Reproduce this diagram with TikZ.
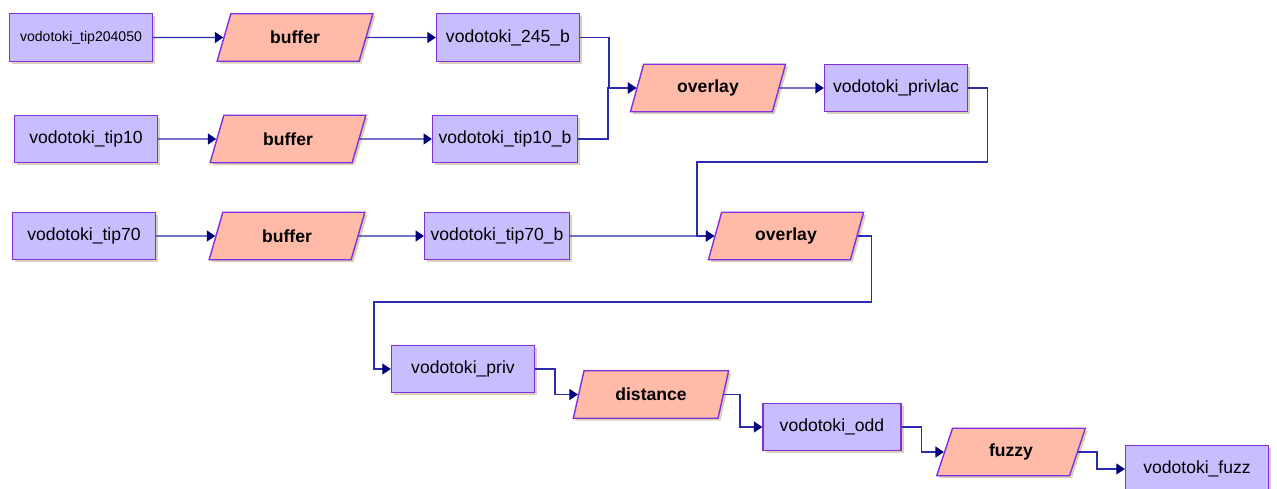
\documentclass[tikz,border=0pt]{standalone}
\usepackage{fontspec}
\setmainfont{Liberation Sans}
\usetikzlibrary{shapes.geometric, arrows.meta, shadows}

\definecolor{layerfill}{HTML}{C8BEFF}
\definecolor{toolfill}{HTML}{FFBBA8}
\definecolor{edgepurple}{HTML}{7F2FE0}
\definecolor{linkblue}{HTML}{2B2BB0}
\definecolor{tipnavy}{HTML}{00007A}
\definecolor{shade}{HTML}{D9D2B8}

\begin{document}
\begin{tikzpicture}[x=0.02cm, y=-0.02cm]
            \tikzstyle{layer} = [rectangle, minimum width=2.86cm, minimum height=0.95cm, text centered, draw=edgepurple, line width=0.8pt, fill=layerfill, font=\fontsize{10}{12}\selectfont, drop shadow={shadow xshift=0.05cm, shadow yshift=-0.05cm, fill=shade, opacity=1}]
            \tikzstyle{tool} = [trapezium, trapezium left angle=75, trapezium right angle=105, trapezium stretches=true, minimum width=3.12cm, minimum height=0.95cm, text centered, draw=edgepurple, line width=0.8pt, fill=toolfill, font=\fontsize{10}{12}\selectfont\bfseries, drop shadow={shadow xshift=0.05cm, shadow yshift=-0.05cm, fill=shade, opacity=1}]
            \tikzstyle{arrow} = [draw=linkblue, line width=0.8pt, -{Triangle[length=1.7mm, width=2.2mm, color=tipnavy]}]

            \fill[white] (0,0) rectangle (1277,489);
            \useasboundingbox (0,0) rectangle (1277,489);

            % first row
            \node (tipA) [layer, font=\fontsize{8}{10}\selectfont] at (81,37.5) {vodotoki\_tip204050};
            \node (bufA) [tool] at (295,37.5) {buffer};
            \node (bufA_out) [layer] at (508,37.5) {vodotoki\_245\_b};

            % second row
            \node (tipB) [layer] at (86,139) {vodotoki\_tip10};
            \node (bufB) [tool] at (288,139) {buffer};
            \node (bufB_out) [layer] at (505,139) {vodotoki\_tip10\_b};

            \node (ovA) [tool] at (708,88) {overlay};
            \node (ovA_out) [layer] at (896,88) {vodotoki\_privlac};

            % third row
            \node (tipC) [layer] at (84,236) {vodotoki\_tip70};
            \node (bufC) [tool] at (287,236) {buffer};
            \node (bufC_out) [layer] at (497,236) {vodotoki\_tip70\_b};
            \node (ovB) [tool] at (786,236) {overlay};

            % chain
            \node (priv) [layer] at (463,369) {vodotoki\_priv};
            \node (dist) [tool] at (651,394.5) {distance};
            \node (odd) [layer, minimum width=2.76cm] at (832,427) {vodotoki\_odd};
            \node (fuzzy) [tool, minimum width=2.98cm] at (1011,452) {fuzzy};
            \node (fuzz) [layer] at (1197,469) {vodotoki\_fuzz};

            \draw [arrow] (tipA) -- (bufA);
            \draw [arrow] (bufA) -- (bufA_out);
            \draw [arrow] (tipB) -- (bufB);
            \draw [arrow] (bufB) -- (bufB_out);
            \draw [arrow] (tipC) -- (bufC);
            \draw [arrow] (bufC) -- (bufC_out);
            \draw [arrow] (bufA_out.east) -- ++(29,0) |- (ovA);
            \draw [arrow] (bufB_out.east) -- ++(30,0) |- (ovA);
            \draw [arrow] (ovA) -- (ovA_out);
            \draw [arrow] (ovA_out.east) -- ++(19,0) |- (697,162) |- (ovB);
            \draw [arrow] (bufC_out) -- (ovB);
            \draw [arrow] (ovB.east) -- ++(14,0) |- (374,302) |- (priv);
            \draw [arrow] (priv.east) -- ++(20,0) |- (dist);
            \draw [arrow] (dist.east) -- ++(16,0) |- (odd);
            \draw [arrow] (odd.east) -- ++(20,0) |- (fuzzy);
            \draw [arrow] (fuzzy.east) -- ++(19,0) |- (fuzz);
        \end{tikzpicture}
\end{document}
